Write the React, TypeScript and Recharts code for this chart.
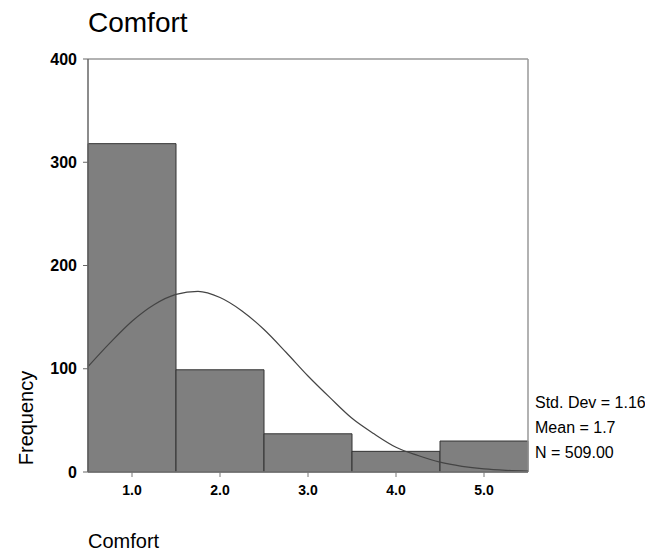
import React from 'react';
import { ComposedChart, Bar, Line, XAxis, YAxis, ReferenceLine } from 'recharts';

const binCenters = [1, 2, 3, 4, 5];
const frequencies = [318, 99, 37, 20, 30];

const curveX = [0.5, 0.75, 1, 1.25, 1.5, 1.75, 2, 2.25, 2.5, 2.75, 3, 3.25, 3.5, 3.75, 4, 4.25, 4.5, 4.75, 5, 5.25, 5.5];
const curveY = [102, 125, 146, 162, 172, 175, 169, 156, 138, 116, 93, 72, 52, 37, 24, 16, 9.5, 5.5, 3, 1.6, 0.8];

const yTicks = [0, 100, 200, 300, 400];
const xTicks = [1, 2, 3, 4, 5];

const chartTitle = 'Comfort';
const xTitle = 'Comfort';
const yTitle = 'Frequency';
const statLines = ['Std. Dev = 1.16', 'Mean = 1.7', 'N = 509.00'];

const barData = binCenters.map((x, i) => ({ x, count: frequencies[i] }));
const curveData = curveX.map((x, i) => ({ x, y: curveY[i] }));

const FONT = '"Liberation Sans", Arial, sans-serif';

export default function App() {
  return (
    <div style={{ position: 'relative', width: 645, height: 546, fontFamily: FONT, background: '#fff' }}>
      <ComposedChart
        width={645}
        height={546}
        data={barData}
        margin={{ top: 51, right: 125, bottom: 52, left: 0 }}
        barCategoryGap={0}
        barGap={0}
      >
        <XAxis
          xAxisId="num"
          dataKey="x"
          type="number"
          domain={[0.5, 5.5]}
          allowDataOverflow
          ticks={xTicks}
          tickFormatter={(v: number) => v.toFixed(1)}
          height={30}
          tickSize={5}
          tickMargin={8}
          axisLine={{ stroke: '#777', strokeWidth: 1.5 }}
          tickLine={{ stroke: '#777' }}
          tick={{ fill: '#000', fontSize: 14, fontWeight: 'bold', fontFamily: FONT }}
        />
        <XAxis xAxisId="cat" dataKey="x" type="category" hide height={0} padding={{ left: 0, right: 0 }} />
        <YAxis
          domain={[0, 400]}
          ticks={yTicks}
          width={80}
          tickSize={5}
          tickMargin={6}
          axisLine={{ stroke: '#666', strokeWidth: 1.5 }}
          tickLine={{ stroke: '#666' }}
          tick={{ fill: '#000', fontSize: 16, fontWeight: 'bold', fontFamily: FONT }}
        />
        <ReferenceLine xAxisId="num" y={400} stroke="#999" strokeWidth={1.5} />
        <ReferenceLine xAxisId="num" x={5.5} stroke="#999" strokeWidth={1.5} />
        <Bar
          xAxisId="cat"
          dataKey="count"
          fill="#7f7f7f"
          stroke="#333"
          strokeWidth={1}
          isAnimationActive={false}
        />
        <Line
          xAxisId="num"
          data={curveData}
          dataKey="y"
          type="monotone"
          stroke="#444"
          strokeWidth={1.2}
          dot={false}
          activeDot={false}
          isAnimationActive={false}
        />
      </ComposedChart>

      <div style={{ position: 'absolute', left: 80, top: 1, fontSize: 28, lineHeight: '28px', color: '#000', whiteSpace: 'nowrap' }}>
        {chartTitle}
      </div>
      <div style={{ position: 'absolute', left: 80, top: 523, fontSize: 20, lineHeight: '20px', color: '#000', whiteSpace: 'nowrap' }}>
        {xTitle}
      </div>
      <div
        style={{
          position: 'absolute',
          left: 17.5 - 60,
          top: 410 - 10,
          width: 120,
          height: 20,
          fontSize: 20,
          lineHeight: '20px',
          textAlign: 'center',
          color: '#000',
          transform: 'rotate(-90deg)',
          whiteSpace: 'nowrap',
        }}
      >
        {yTitle}
      </div>
      {statLines.map((s, i) => (
        <div
          key={s}
          style={{ position: 'absolute', left: 527, top: 386.5 + i * 25, fontSize: 16, lineHeight: '16px', color: '#000', whiteSpace: 'nowrap' }}
        >
          {s}
        </div>
      ))}
    </div>
  );
}
